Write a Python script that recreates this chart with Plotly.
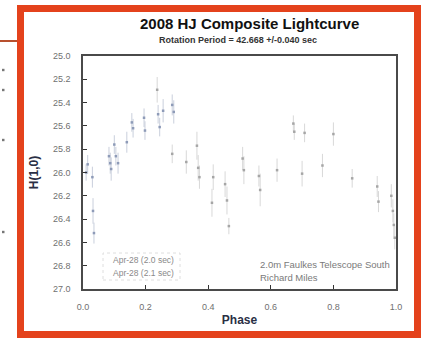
import plotly.graph_objects as go

# ---- data ----
phase_a = [0.010, 0.015, 0.030, 0.032, 0.035, 0.083, 0.087, 0.090, 0.100, 0.105, 0.112,
           0.140, 0.156, 0.160, 0.195, 0.198, 0.240, 0.245, 0.256, 0.285, 0.290]
h_a = [26.00, 25.93, 26.04, 26.33, 26.52, 25.86, 25.92, 25.97, 25.76, 25.86, 25.92,
       25.74, 25.57, 25.62, 25.53, 25.64, 25.50, 25.61, 25.47, 25.42, 25.48]
err_a = [0.07, 0.08, 0.09, 0.11, 0.09, 0.08, 0.09, 0.10, 0.08, 0.08, 0.09,
         0.09, 0.08, 0.08, 0.08, 0.08, 0.08, 0.08, 0.10, 0.09, 0.10]

phase_b = [0.237, 0.285, 0.330, 0.364, 0.368, 0.372, 0.412, 0.416, 0.454, 0.460, 0.466,
           0.510, 0.514, 0.562, 0.566, 0.620, 0.672, 0.675, 0.700, 0.708, 0.765,
           0.800, 0.860, 0.940, 0.944, 0.985, 0.990, 0.993, 0.996]
h_b = [25.29, 25.84, 25.91, 25.77, 25.96, 26.04, 26.26, 26.04, 26.10, 26.24, 26.46,
       25.88, 25.98, 26.03, 26.15, 25.98, 25.58, 25.65, 26.01, 25.66, 25.94,
       25.67, 26.05, 26.12, 26.25, 26.20, 26.33, 26.45, 26.56]
err_b = [0.11, 0.08, 0.10, 0.12, 0.11, 0.10, 0.12, 0.11, 0.11, 0.12, 0.07,
         0.10, 0.12, 0.09, 0.14, 0.10, 0.07, 0.07, 0.11, 0.08, 0.10,
         0.10, 0.08, 0.09, 0.09, 0.10, 0.10, 0.10, 0.10]

series_names = ["Apr-28 (2.0 sec)", "Apr-28 (2.1 sec)"]
x_ticks = [0.0, 0.2, 0.4, 0.6, 0.8, 1.0]
y_ticks = [25.0, 25.2, 25.4, 25.6, 25.8, 26.0, 26.2, 26.4, 26.6, 26.8, 27.0]

title = "2008 HJ Composite Lightcurve"
subtitle = "Rotation Period = 42.668 +/-0.040 sec"
site_lines = ["2.0m Faulkes Telescope South", "Richard Miles"]

FONT = "Liberation Sans, Arial, sans-serif"
W, H = 425, 341
L, R, T, B = 83, 29, 56, 52
PW, PH = W - L - R, H - T - B


def px(xp):
    return (xp - L) / PW


def py(yp):
    return (H - B - yp) / PH


fig = go.Figure()
fig.add_trace(go.Scatter(
    x=phase_a, y=h_a, mode="markers", name=series_names[0],
    marker=dict(symbol="square", size=2.5, color="#8e9bb8"),
    error_y=dict(type="data", array=err_a, color="#c9cfdc", thickness=1, width=0),
    showlegend=False))
fig.add_trace(go.Scatter(
    x=phase_b, y=h_b, mode="markers", name=series_names[1],
    marker=dict(symbol="square", size=2.5, color="#a6a6a6"),
    error_y=dict(type="data", array=err_b, color="#d8d8d8", thickness=1, width=0),
    showlegend=False))

axis_common = dict(
    showgrid=False, zeroline=False, showline=True, mirror=True,
    linecolor="#4a4a4a", linewidth=1.5,
    ticks="inside", ticklen=4, tickcolor="#333", tickwidth=1,
    tickfont=dict(family=FONT, size=9, color="#707070"),
    tickformat=".1f",
)
fig.update_xaxes(range=[0, 1], tickvals=x_ticks, ticklabelstandoff=8,
                 title=dict(text="<b>Phase</b>", font=dict(family=FONT, size=12, color="#2a2f45"), standoff=5),
                 **axis_common)
fig.update_yaxes(range=[27.0, 25.0], tickvals=y_ticks, ticklabelstandoff=9,
                 title=dict(text="<b>H(1,0)</b>", font=dict(family=FONT, size=12, color="#2a2f45"), standoff=12),
                 **axis_common)

shapes = []
# orange frame
shapes.append(dict(type="rect", xref="paper", yref="paper",
                   x0=px(20.5), x1=px(417.5), y0=py(334.5), y1=py(8.5),
                   line=dict(color="#E4421C", width=7), fillcolor="rgba(0,0,0,0)", layer="below"))
# page remnants outside the frame
shapes.append(dict(type="line", xref="paper", yref="paper",
                   x0=px(0), x1=px(17), y0=py(41), y1=py(41),
                   line=dict(color="#B8502E", width=2)))
for yy in [70, 90, 140, 232]:
    shapes.append(dict(type="rect", xref="paper", yref="paper",
                       x0=px(2), x1=px(4.5), y0=py(yy + 1.2), y1=py(yy - 1.2),
                       line=dict(width=0), fillcolor="#777"))
# faint legend box
shapes.append(dict(type="rect", xref="paper", yref="paper",
                   x0=px(103), x1=px(180), y0=py(280), y1=py(253),
                   line=dict(color="#dedede", width=1, dash="dot"), fillcolor="rgba(0,0,0,0)"))


def ann(text, x, y, size, color, xanchor="center"):
    return dict(text=text, x=px(x), y=py(y), xref="paper", yref="paper",
                xanchor=xanchor, yanchor="middle", showarrow=False,
                font=dict(family=FONT, size=size, color=color))


annotations = [
    ann("<b>" + title + "</b>", 249, 24, 15, "#111"),
    ann("<b>" + subtitle + "</b>", 238, 40, 9, "#333"),
    ann(series_names[0], 111, 260, 8.5, "#8a8a8a", "left"),
    ann(series_names[1], 111, 273, 8.5, "#8a8a8a", "left"),
    ann(site_lines[0], 258, 264, 9.5, "#7a7a7a", "left"),
    ann(site_lines[1], 258, 277, 9.5, "#7a7a7a", "left"),
]

fig.update_layout(
    width=W, height=H,
    margin=dict(l=L, r=R, t=T, b=B, pad=0),
    paper_bgcolor="white", plot_bgcolor="white",
    shapes=shapes, annotations=annotations,
    font=dict(family=FONT),
)

fig.write_html("out.html", config={"displayModeBar": False},
               post_script="document.body.style.margin='0';document.body.style.padding='0';")
